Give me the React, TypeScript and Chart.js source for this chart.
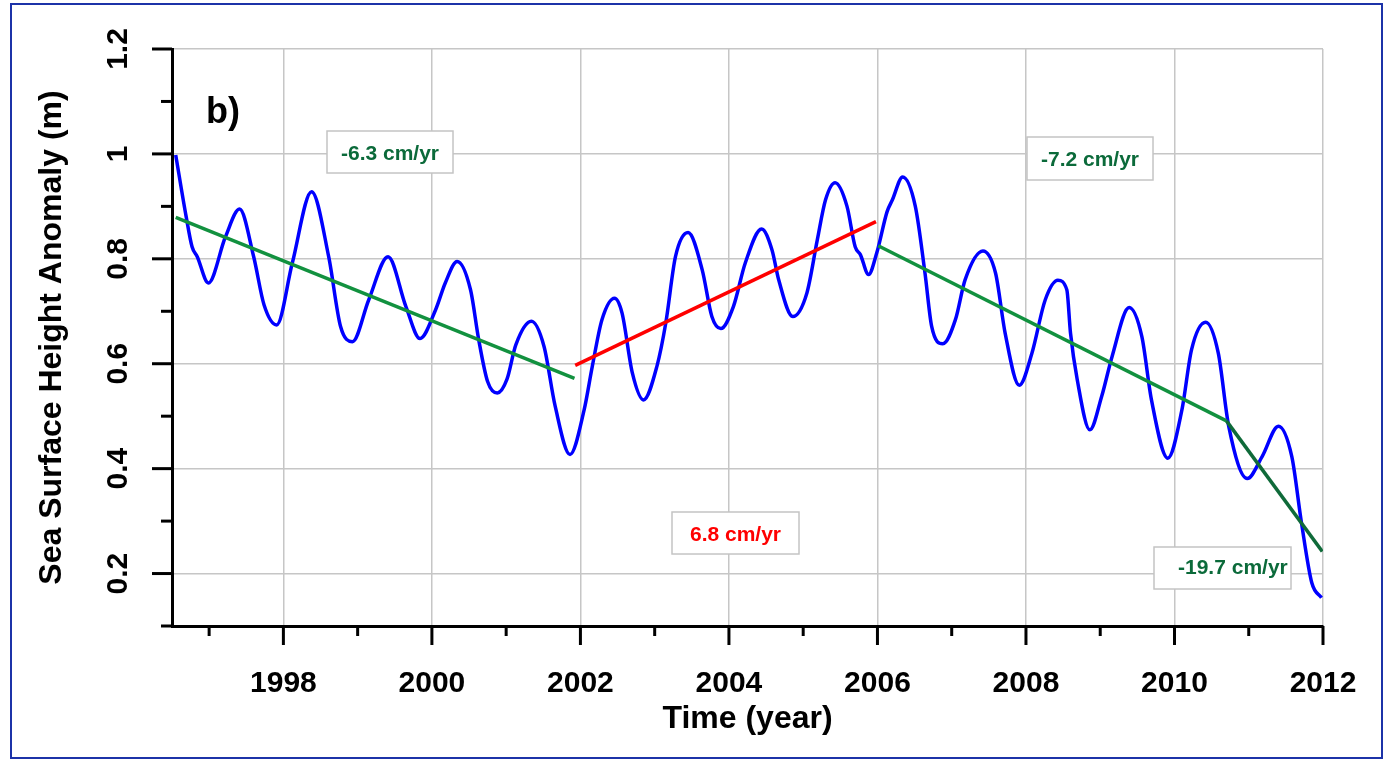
import React, { useEffect, useRef } from "react";
import { Chart, registerables } from "chart.js";

Chart.register(...registerables);

// ---------- data ----------
const SSH_YEARS = [
  1996.55, 1996.69, 1996.77, 1996.84, 1996.99, 1997.22, 1997.41, 1997.6, 1997.74, 1997.91,
  1998.12, 1998.38, 1998.61, 1998.77, 1998.93, 1999.15, 1999.41, 1999.65, 1999.84, 2000.05,
  2000.18, 2000.34, 2000.52, 2000.63, 2000.75, 2000.88, 2001.01, 2001.13, 2001.34, 2001.51,
  2001.66, 2001.86, 2002.05, 2002.16, 2002.29, 2002.46, 2002.56, 2002.7, 2002.85, 2003.03,
  2003.15, 2003.28, 2003.45, 2003.64, 2003.77, 2003.89, 2004.06, 2004.22, 2004.44, 2004.58,
  2004.67, 2004.86, 2005.05, 2005.19, 2005.3, 2005.43, 2005.59, 2005.7, 2005.77, 2005.88,
  2005.99, 2006.13, 2006.2, 2006.34, 2006.51, 2006.64, 2006.73, 2006.88, 2007.05, 2007.18,
  2007.42, 2007.59, 2007.72, 2007.91, 2008.08, 2008.26, 2008.43, 2008.55, 2008.6, 2008.69,
  2008.86, 2009.02, 2009.16, 2009.39, 2009.56, 2009.69, 2009.91, 2010.1, 2010.23, 2010.42,
  2010.59, 2010.73, 2010.98, 2011.18, 2011.4, 2011.58, 2011.71, 2011.85, 2011.98,
];
const SSH_VALUES = [
  0.998, 0.881, 0.823, 0.804, 0.754, 0.842, 0.895, 0.804, 0.712, 0.674,
  0.792, 0.928, 0.804, 0.671, 0.642, 0.722, 0.804, 0.709, 0.648, 0.703,
  0.754, 0.795, 0.741, 0.646, 0.566, 0.544, 0.57, 0.636, 0.681, 0.633,
  0.519, 0.427, 0.512, 0.595, 0.684, 0.725, 0.697, 0.582, 0.531, 0.595,
  0.678, 0.804, 0.85, 0.779, 0.69, 0.667, 0.709, 0.792, 0.857, 0.817,
  0.76, 0.69, 0.735, 0.836, 0.912, 0.945, 0.9, 0.823, 0.808, 0.77,
  0.811, 0.89, 0.912, 0.956, 0.9, 0.773, 0.671, 0.638, 0.684, 0.76,
  0.815, 0.773, 0.658, 0.559, 0.62, 0.722, 0.759, 0.741, 0.658, 0.57,
  0.474, 0.538, 0.614, 0.707, 0.652, 0.531, 0.42, 0.512, 0.627, 0.679,
  0.62, 0.481, 0.381, 0.423, 0.481, 0.423, 0.297, 0.182, 0.154,
];

const TREND1_YEARS = [1996.55, 2001.92];
const TREND1_VALUES = [0.879, 0.572];
const TREND2_YEARS = [2001.93, 2005.98];
const TREND2_VALUES = [0.597, 0.871];
const TREND3_YEARS = [2006.01, 2010.7];
const TREND3_VALUES = [0.825, 0.491];
const TREND4_YEARS = [2010.7, 2011.99];
const TREND4_VALUES = [0.491, 0.242];

const X_ALL_TICKS = [1997, 1998, 1999, 2000, 2001, 2002, 2003, 2004, 2005, 2006, 2007, 2008, 2009, 2010, 2011, 2012];
const X_LABELED_TICKS = [1998, 2000, 2002, 2004, 2006, 2008, 2010, 2012];
const Y_ALL_TICKS = [0.1, 0.2, 0.3, 0.4, 0.5, 0.6, 0.7, 0.8, 0.9, 1.0, 1.1, 1.2];
const Y_MAJOR_TICKS = [0.2, 0.4, 0.6, 0.8, 1.0, 1.2];
const Y_TICK_LABELS = ["0.2", "0.4", "0.6", "0.8", "1", "1.2"];

const RATE_LABELS = ["-6.3 cm/yr", "6.8 cm/yr", "-7.2 cm/yr", "-19.7 cm/yr"];
const PANEL_LABEL = "b)";
const X_TITLE = "Time (year)";
const Y_TITLE = "Sea Surface Height Anomaly (m)";

// ---------- styles / layout ----------
const FONT = '"Liberation Sans", Arial, Helvetica, sans-serif';
const GRID = "#c6c6c6";
const BLUE = "#0000ff";
const RED = "#ff0000";
const GREEN = "#12913f";
const DARK_GREEN = "#0f6a39";
const TEXT_GREEN = "#0b6a3a";

const BOXES = [
  { text: RATE_LABELS[0], color: TEXT_GREEN, x: 327, y: 131, w: 126, h: 42, tx: 390, ty: 159.5, align: "center" },
  { text: RATE_LABELS[1], color: RED, x: 672, y: 512, w: 127, h: 42, tx: 735.5, ty: 540.5, align: "center" },
  { text: RATE_LABELS[2], color: TEXT_GREEN, x: 1027, y: 137, w: 126, h: 43, tx: 1090, ty: 165.5, align: "center" },
  { text: RATE_LABELS[3], color: TEXT_GREEN, x: 1154, y: 547, w: 137, h: 42, tx: 1178, ty: 574, align: "left" },
];

const pts = (xs: number[], ys: number[]) => xs.map((x, i) => ({ x, y: ys[i] }));

const decorPlugin = {
  id: "decor",
  beforeDatasetsDraw(chart: any) {
    const ctx = chart.ctx as CanvasRenderingContext2D;
    ctx.save();
    for (const b of BOXES) {
      ctx.fillStyle = "#ffffff";
      ctx.fillRect(b.x, b.y, b.w, b.h);
      ctx.strokeStyle = "#c4c4c4";
      ctx.lineWidth = 1.5;
      ctx.strokeRect(b.x, b.y, b.w, b.h);
      ctx.font = `bold 21px ${FONT}`;
      ctx.fillStyle = b.color;
      ctx.textAlign = b.align as CanvasTextAlign;
      ctx.textBaseline = "alphabetic";
      ctx.fillText(b.text, b.tx, b.ty);
    }
    ctx.restore();
  },
  afterDraw(chart: any) {
    const ctx = chart.ctx as CanvasRenderingContext2D;
    const area = chart.chartArea;
    const xs = chart.scales.x;
    const ys = chart.scales.y;
    ctx.save();
    ctx.strokeStyle = "#000";
    ctx.lineWidth = 3;
    ctx.lineCap = "butt";
    // y tick marks
    for (const v of Y_ALL_TICKS) {
      const py = ys.getPixelForValue(v);
      const major = Y_MAJOR_TICKS.some((m) => Math.abs(m - v) < 1e-6);
      ctx.beginPath();
      ctx.moveTo(area.left - (major ? 20 : 11), py);
      ctx.lineTo(area.left, py);
      ctx.stroke();
    }
    // x tick marks
    for (const v of X_ALL_TICKS) {
      const px = xs.getPixelForValue(v);
      const major = X_LABELED_TICKS.includes(v);
      ctx.beginPath();
      ctx.moveTo(px, area.bottom);
      ctx.lineTo(px, area.bottom + (major ? 19 : 10));
      ctx.stroke();
    }
    // rotated y tick labels
    ctx.fillStyle = "#000";
    ctx.font = `bold 30px ${FONT}`;
    ctx.textAlign = "center";
    ctx.textBaseline = "alphabetic";
    Y_MAJOR_TICKS.forEach((v, i) => {
      const py = ys.getPixelForValue(v);
      ctx.save();
      ctx.translate(127, py);
      ctx.rotate(-Math.PI / 2);
      ctx.fillText(Y_TICK_LABELS[i], 0, 0);
      ctx.restore();
    });
    // panel label
    ctx.font = `bold 36px ${FONT}`;
    ctx.textAlign = "left";
    ctx.fillText(PANEL_LABEL, 206, 123);
    // outer frame
    ctx.strokeStyle = "#1c32a8";
    ctx.lineWidth = 2;
    ctx.strokeRect(11, 4, 1371, 754);
    ctx.restore();
  },
};

export default function App() {
  const ref = useRef<HTMLCanvasElement | null>(null);

  useEffect(() => {
    if (!ref.current) return;
    const chart = new Chart(ref.current, {
      type: "line",
      data: {
        datasets: [
          {
            data: pts(TREND1_YEARS, TREND1_VALUES),
            borderColor: GREEN,
            borderWidth: 3.5,
            pointRadius: 0,
            tension: 0,
          },
          {
            data: pts(TREND2_YEARS, TREND2_VALUES),
            borderColor: RED,
            borderWidth: 3.5,
            pointRadius: 0,
            tension: 0,
          },
          {
            data: pts(TREND3_YEARS, TREND3_VALUES),
            borderColor: GREEN,
            borderWidth: 3.5,
            pointRadius: 0,
            tension: 0,
          },
          {
            data: pts(TREND4_YEARS, TREND4_VALUES),
            borderColor: DARK_GREEN,
            borderWidth: 3.5,
            pointRadius: 0,
            tension: 0,
          },
          {
            data: pts(SSH_YEARS, SSH_VALUES),
            borderColor: BLUE,
            borderWidth: 3.5,
            pointRadius: 0,
            cubicInterpolationMode: "monotone",
          },
        ],
      },
      options: {
        animation: false,
        responsive: false,
        devicePixelRatio: 1,
        layout: { padding: { top: 49, right: 61, bottom: 0, left: 0 } },
        plugins: { legend: { display: false }, tooltip: { enabled: false } },
        scales: {
          x: {
            type: "linear",
            min: 1996.5,
            max: 2012,
            afterBuildTicks: (s: any) => {
              s.ticks = X_ALL_TICKS.map((v) => ({ value: v }));
            },
            afterFit: (s: any) => {
              s.height = 134;
            },
            ticks: {
              autoSkip: false,
              maxRotation: 0,
              minRotation: 0,
              padding: 0,
              color: "#000",
              font: { family: FONT, size: 30, weight: "bold" },
              callback: (v: any) => (X_LABELED_TICKS.includes(Number(v)) ? String(v) : ""),
            },
            grid: {
              drawTicks: true,
              tickLength: 40,
              tickColor: "rgba(0,0,0,0)",
              lineWidth: 1.5,
              color: (c: any) => (c.tick && X_LABELED_TICKS.includes(c.tick.value) ? GRID : "rgba(0,0,0,0)"),
            },
            border: { display: true, color: "#000", width: 3 },
            title: {
              display: true,
              text: X_TITLE,
              color: "#000",
              font: { family: FONT, size: 32, weight: "bold" },
              padding: { top: 0, bottom: 22 },
            },
          },
          y: {
            type: "linear",
            min: 0.1,
            max: 1.2,
            afterBuildTicks: (s: any) => {
              s.ticks = Y_ALL_TICKS.map((v) => ({ value: v }));
            },
            afterFit: (s: any) => {
              s.width = 172;
            },
            ticks: { display: false },
            grid: {
              drawTicks: false,
              lineWidth: 1.5,
              color: (c: any) =>
                c.tick && Y_MAJOR_TICKS.some((m) => Math.abs(m - c.tick.value) < 1e-6) ? GRID : "rgba(0,0,0,0)",
            },
            border: { display: true, color: "#000", width: 3 },
            title: {
              display: true,
              text: Y_TITLE,
              color: "#000",
              font: { family: FONT, size: 32, weight: "bold" },
              padding: { top: 33, bottom: 0 },
            },
          },
        },
      } as any,
      plugins: [decorPlugin],
    });
    return () => chart.destroy();
  }, []);

  return (
    <div style={{ position: "absolute", left: 0, top: 0, width: 1384, height: 760, background: "#fff" }}>
      <canvas ref={ref} width={1384} height={760} style={{ width: 1384, height: 760, display: "block" }} />
    </div>
  );
}
